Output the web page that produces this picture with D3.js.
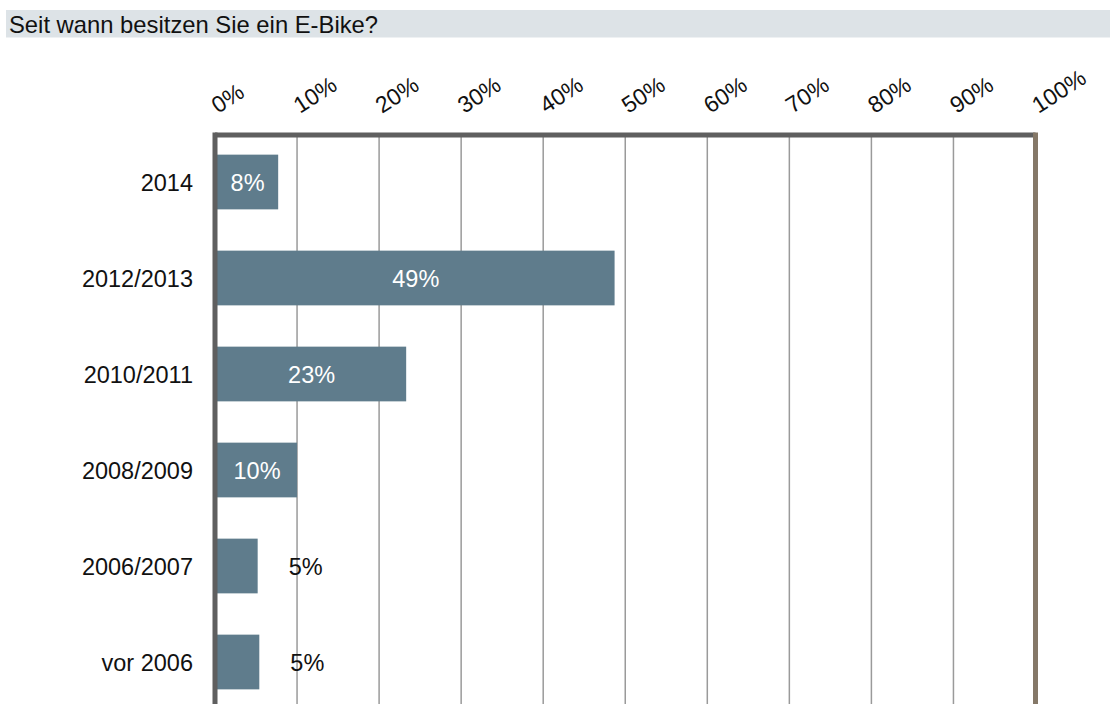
<!DOCTYPE html>
<html><head><meta charset="utf-8">
<script src="https://cdn.jsdelivr.net/npm/d3@7"></script>
<style>body{margin:0;background:#fff}svg{display:block}text{font-family:"Liberation Sans",Arial,sans-serif}</style>
</head><body>
<svg id="c" width="1110" height="704"></svg>
<script>
const title = "Seit wann besitzen Sie ein E-Bike?";
const categories = ["2014","2012/2013","2010/2011","2008/2009","2006/2007","vor 2006"];
const values = [7.7, 48.7, 23.3, 10.0, 5.2, 5.4];
const valueLabels = ["8%","49%","23%","10%","5%","5%"];
const ticks = [0,10,20,30,40,50,60,70,80,90,100];
const tickLabels = ticks.map(t => t + "%");

const svg = d3.select("#c");
const x = d3.scaleLinear().domain([0,100]).range([215,1035.5]);
const y = d3.scaleBand().domain(categories).range([134,710]).paddingInner(0.43).paddingOuter(0.215);

// title
svg.append("rect").attr("x",6).attr("y",10).attr("width",1104).attr("height",27.5).attr("fill","#dde3e7");
svg.append("text").attr("x",9).attr("y",32.5).attr("font-size",23.8).attr("fill","#111").text(title);

// gridlines
svg.append("g").selectAll("line").data(ticks.slice(1,-1)).join("line")
  .attr("x1",d=>x(d)).attr("x2",d=>x(d)).attr("y1",135).attr("y2",704)
  .attr("stroke","#9a9a9a").attr("stroke-width",1.5);

// tick labels
svg.append("g").selectAll("text").data(ticks).join("text")
  .attr("transform",d=>`translate(${x(d)+3},${114}) rotate(-33)`)
  .attr("font-size",23).attr("fill","#111").text((d,i)=>tickLabels[i]);

// bars
svg.append("g").selectAll("rect").data(values).join("rect")
  .attr("x",x(0)+2).attr("y",(d,i)=>y(categories[i]))
  .attr("width",d=>x(d)-x(0)-2).attr("height",y.bandwidth())
  .attr("fill","#5f7c8c");

// value labels
svg.append("g").selectAll("text").data(values).join("text")
  .attr("x",d=> d>=7 ? (x(0)+2+x(d))/2 : x(d)+48)
  .attr("y",(d,i)=>y(categories[i])+y.bandwidth()/2+8.5)
  .attr("text-anchor","middle").attr("font-size",23.5)
  .attr("fill",d=> d>=7 ? "#fff" : "#111")
  .text((d,i)=>valueLabels[i]);

// category labels
svg.append("g").selectAll("text").data(categories).join("text")
  .attr("x",193).attr("y",d=>y(d)+y.bandwidth()/2+8.5)
  .attr("text-anchor","end").attr("font-size",23.5).attr("fill","#111").text(d=>d);

// frame
svg.append("line").attr("x1",x(0)).attr("x2",x(100)).attr("y1",135).attr("y2",135).attr("stroke","#5f5f5f").attr("stroke-width",5);
svg.append("line").attr("x1",x(0)).attr("x2",x(0)).attr("y1",132.5).attr("y2",704).attr("stroke","#5f5f5f").attr("stroke-width",5);
svg.append("line").attr("x1",x(100)).attr("x2",x(100)).attr("y1",132.5).attr("y2",704).attr("stroke","#857868").attr("stroke-width",5);
</script>
</body></html>
